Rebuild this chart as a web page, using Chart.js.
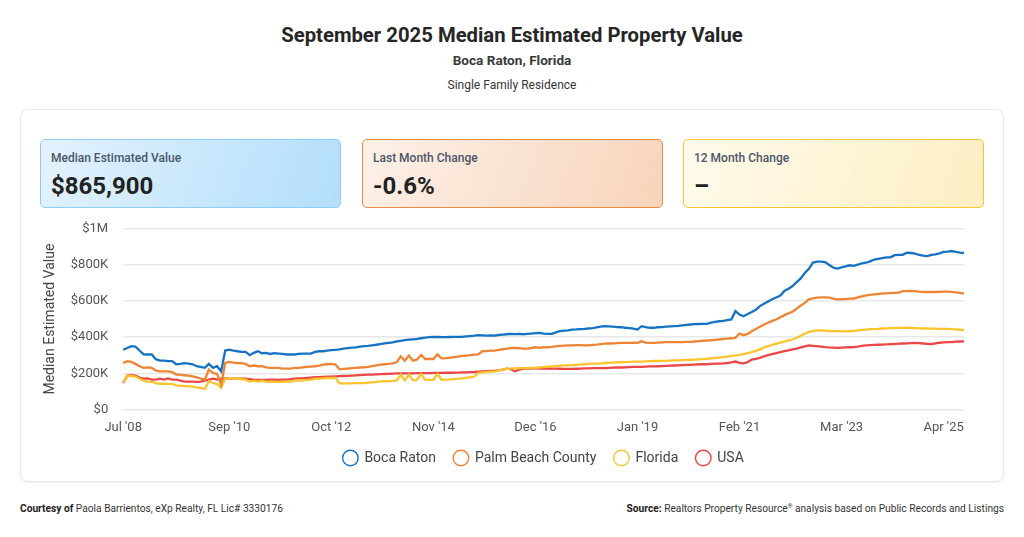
<!DOCTYPE html>
<html>
<head>
<meta charset="utf-8">
<script src="https://cdn.jsdelivr.net/npm/chart.js@4.4.1/dist/chart.umd.min.js"></script>
<style>
  body { margin: 0; width: 1024px; height: 537px; background: #fff; font-family: Roboto, "Noto Sans", sans-serif; position: relative; overflow: hidden; }
  .title { position: absolute; left: 0; width: 1024px; text-align: center; top: 22px; font-size: 20.3px; font-weight: 700; color: #262626; line-height: 26px; }
  .subtitle { position: absolute; left: 0; width: 1024px; text-align: center; top: 52px; font-size: 13.6px; font-weight: 700; color: #3a3a3a; line-height: 16px; }
  .subtitle2 { position: absolute; left: 0; width: 1024px; text-align: center; top: 77px; font-size: 12px; color: #333; line-height: 16px; }
  .panel { position: absolute; left: 20px; top: 109px; width: 982px; height: 371px; border: 1px solid #e2e8f0; border-radius: 8px; box-shadow: 0 1px 2px rgba(30, 60, 100, 0.08); }
  .card { position: absolute; top: 139px; height: 67px; width: 299px; border-radius: 5px; box-sizing: content-box; }
  .card .lbl { position: absolute; left: 10px; top: 11px; font-size: 12px; font-weight: 500; color: #4a5568; }
  .card .val { position: absolute; left: 10px; top: 32px; font-size: 24px; font-weight: 700; color: #222; }
  .c1 { left: 40px; background: linear-gradient(110deg, #e4f2fd, #b2defb); border: 1px solid #90cdf4; }
  .c2 { left: 362px; background: linear-gradient(110deg, #fdf1e8, #f7d4bb); border: 1px solid #ef8a3e; }
  .c3 { left: 683px; background: linear-gradient(110deg, #fffaec, #fdefc3); border: 1px solid #fbc52f; }
  .chartbox { position: absolute; left: 20px; top: 206px; width: 964px; height: 275px; }
  .foot { position: absolute; top: 503px; font-size: 10.2px; color: #333; line-height: 12px; }
  .foot b { color: #222; }
  .foot sup { font-size: 6px; line-height: 0; vertical-align: 4px; }
</style>
</head>
<body>
<div class="title">September 2025 Median Estimated Property Value</div>
<div class="subtitle">Boca Raton, Florida</div>
<div class="subtitle2">Single Family Residence</div>
<div class="panel"></div>
<div class="card c1"><div class="lbl">Median Estimated Value</div><div class="val">$865,900</div></div>
<div class="card c2"><div class="lbl">Last Month Change</div><div class="val">-0.6%</div></div>
<div class="card c3"><div class="lbl">12 Month Change</div><div class="val">–</div></div>
<div class="chartbox"><canvas id="valueChart"></canvas></div>
<div class="foot" style="left:20px;"><b>Courtesy of</b> Paola Barrientos, eXp Realty, FL Lic# 3330176</div>
<div class="foot" style="right:20px;"><b>Source:</b> Realtors Property Resource<sup>®</sup> analysis based on Public Records and Listings</div>

<script>
// Месяцы: Jul 2008 .. Sep 2025 (207 точек)
const monthNames = ['Jan', 'Feb', 'Mar', 'Apr', 'May', 'Jun', 'Jul', 'Aug', 'Sep', 'Oct', 'Nov', 'Dec'];
const firstYear = 2008;
const firstMonth = 6; // Jul
const lastYear = 2025;
const lastMonth = 8;  // Sep

// Подписи, которые видны на оси X
const tickLabels = ["Jul '08", "Sep '10", "Oct '12", "Nov '14", "Dec '16", "Jan '19", "Feb '21", "Mar '23", "Apr '25"];

// Значения в тысячах долларов
const bocaRaton = [
    330, 340, 350, 348, 326, 305, 304, 304, 278, 270,
    270, 267, 267, 250, 252, 256, 254, 250, 239, 235,
    230, 252, 230, 239, 211, 326, 331, 326, 322, 318,
    318, 300, 313, 322, 311, 313, 307, 311, 309, 307,
    304, 304, 304, 307, 309, 309, 309, 318, 322, 322,
    326, 328, 330, 332, 336, 339, 342, 344, 347, 350,
    352, 355, 358, 362, 365, 368, 371, 377, 380, 383,
    386, 388, 390, 394, 397, 400, 402, 401, 400, 400,
    401, 402, 402, 402, 404, 406, 408, 411, 410, 409,
    410, 409, 412, 414, 416, 418, 417, 418, 416, 418,
    420, 422, 424, 420, 418, 418, 426, 433, 436, 438,
    442, 443, 445, 446, 448, 450, 454, 458, 461, 460,
    458, 456, 455, 452, 450, 447, 442, 461, 455, 452,
    452, 455, 456, 458, 460, 461, 462, 465, 468, 470,
    472, 473, 474, 474, 480, 485, 488, 490, 494, 498,
    544, 525, 516, 528, 539, 552, 572, 585, 598, 610,
    620, 630, 656, 668, 683, 705, 725, 755, 778, 813,
    818, 818, 815, 800, 785, 780, 786, 792, 798, 795,
    802, 808, 812, 820, 830, 834, 838, 842, 842, 854,
    856, 856, 868, 866, 863, 856, 852, 849, 855, 859,
    864, 872, 874, 877, 872, 868, 865.9
];

const palmBeach = [
    257, 267, 263, 252, 239, 230, 233, 230, 215, 211,
    211, 211, 207, 193, 193, 189, 187, 183, 178, 170,
    165, 220, 202, 196, 137, 257, 263, 259, 257, 256,
    252, 239, 243, 239, 239, 233, 230, 230, 230, 226,
    226, 226, 230, 230, 233, 235, 237, 239, 243, 248,
    250, 252, 248, 222, 224, 226, 228, 230, 232, 233,
    236, 240, 244, 248, 250, 252, 255, 261, 294, 270,
    298, 270, 276, 302, 279, 279, 279, 305, 283, 284,
    286, 289, 292, 296, 298, 300, 303, 305, 322, 323,
    325, 326, 329, 333, 336, 340, 341, 339, 337, 337,
    340, 344, 341, 344, 344, 346, 349, 352, 353, 355,
    355, 356, 356, 355, 355, 357, 359, 362, 364, 365,
    366, 367, 368, 368, 368, 369, 368, 377, 370, 368,
    368, 370, 371, 372, 372, 372, 373, 373, 374, 374,
    376, 378, 380, 381, 383, 385, 387, 390, 392, 394,
    396, 420, 411, 418, 433, 445, 458, 470, 480, 490,
    498, 510, 522, 532, 541, 558, 575, 590, 609, 615,
    619, 620, 620, 619, 613, 609, 610, 611, 613, 613,
    620, 626, 631, 634, 637, 639, 642, 643, 644, 645,
    646, 655, 655, 656, 655, 652, 650, 650, 650, 650,
    651, 652, 652, 651, 648, 645, 641
];

const florida = [
    150, 185, 186, 182, 170, 159, 154, 152, 146, 142,
    142, 141, 141, 133, 131, 130, 128, 126, 122, 119,
    113, 156, 146, 140, 119, 170, 174, 170, 170, 167,
    165, 154, 159, 154, 159, 154, 152, 152, 152, 152,
    154, 154, 161, 159, 161, 163, 165, 170, 170, 172,
    174, 174, 174, 145, 143, 144, 144, 145, 146, 146,
    148, 150, 152, 155, 156, 157, 158, 161, 192, 161,
    192, 161, 164, 196, 164, 164, 164, 196, 164, 165,
    166, 168, 170, 172, 175, 178, 181, 203, 205, 207,
    209, 211, 215, 220, 224, 226, 227, 228, 229, 229,
    230, 231, 232, 234, 236, 238, 240, 242, 244, 244,
    245, 247, 249, 250, 252, 253, 254, 255, 257, 258,
    259, 260, 261, 262, 263, 264, 265, 265, 266, 267,
    268, 268, 269, 269, 270, 271, 272, 273, 274, 275,
    276, 277, 278, 280, 283, 285, 287, 289, 292, 296,
    299, 302, 306, 312, 317, 324, 332, 344, 350, 357,
    364, 370, 376, 382, 387, 397, 408, 419, 429, 433,
    437, 438, 436, 434, 433, 433, 432, 432, 433, 434,
    437, 440, 442, 444, 445, 446, 448, 449, 450, 451,
    451, 451, 452, 451, 450, 449, 448, 448, 447, 447,
    446, 446, 446, 445, 443, 441, 439
];

const usa = [
    146, 187, 189, 187, 176, 170, 172, 165, 165, 170,
    165, 172, 165, 165, 159, 154, 154, 154, 152, 154,
    159, 165, 170, 165, 170, 172, 172, 170, 170, 170,
    170, 168, 165, 163, 163, 163, 165, 165, 163, 165,
    165, 167, 170, 172, 172, 174, 176, 178, 178, 180,
    181, 182, 183, 184, 185, 186, 187, 188, 190, 191,
    192, 193, 194, 195, 196, 197, 198, 199, 199, 200,
    200, 200, 201, 201, 201, 201, 202, 202, 202, 203,
    203, 204, 204, 205, 205, 206, 207, 209, 211, 212,
    213, 214, 216, 220, 226, 222, 211, 220, 224, 226,
    226, 228, 226, 226, 227, 226, 226, 225, 224, 224,
    224, 225, 226, 227, 227, 228, 228, 229, 229, 230,
    231, 232, 232, 233, 234, 235, 235, 236, 237, 238,
    238, 239, 240, 241, 242, 243, 244, 245, 246, 247,
    248, 249, 250, 250, 252, 253, 254, 255, 257, 260,
    265, 258, 255, 262, 276, 280, 285, 294, 300, 306,
    311, 317, 322, 327, 332, 337, 343, 349, 354, 352,
    350, 348, 345, 343, 342, 341, 342, 343, 344, 345,
    348, 352, 355, 356, 357, 358, 359, 360, 361, 362,
    364, 365, 366, 367, 368, 367, 365, 363, 362, 366,
    369, 371, 372, 373, 375, 376, 377
];

// Формируем подписи месяцев
const labels = [];
for (let y = firstYear, m = firstMonth; y < lastYear || (y === lastYear && m <= lastMonth); ) {
    labels.push(monthNames[m] + " '" + String(y).slice(2));
    m++;
    if (m > 11) { m = 0; y++; }
}

const seriesList = [
    { name: 'Boca Raton', data: bocaRaton, color: '#1673c4' },
    { name: 'Palm Beach County', data: palmBeach, color: '#ee8434' },
    { name: 'Florida', data: florida, color: '#fcc42c' },
    { name: 'USA', data: usa, color: '#ec4646' }
];

// Поднимаем легенду ближе к оси X (как в оригинале)
const legendShift = {
    id: 'legendShift',
    beforeDraw(chart) {
        const lg = chart.legend;
        if (!lg || lg._shifted) return;
        const orig = lg.draw.bind(lg);
        lg.draw = function() {
            const c = this.ctx;
            c.save();
            c.translate(0, -6);
            orig();
            c.restore();
        };
        lg._shifted = true;
    }
};

const ctx = document.getElementById('valueChart').getContext('2d');

new Chart(ctx, {
    type: 'line',
    data: {
        labels: labels,
        datasets: seriesList.map(s => ({
            label: s.name,
            data: s.data,
            borderColor: s.color,
            backgroundColor: 'rgba(0,0,0,0)',
            borderWidth: 2.3,
            pointRadius: 0,
            pointHoverRadius: 0,
            tension: 0,
            pointStyle: 'circle'
        }))
    },
    plugins: [legendShift],
    options: {
        responsive: true,
        maintainAspectRatio: false,
        animation: false,
        layout: { padding: { top: 0, right: 20, left: 22, bottom: 0 } },
        plugins: {
            tooltip: { enabled: false },
            legend: {
                position: 'bottom',
                fullSize: false,
                labels: {
                    usePointStyle: true,
                    boxWidth: 14,
                    boxHeight: 11,
                    padding: 18,
                    color: '#444',
                    font: { family: 'Roboto', size: 14 },
                    // Тонкие кружки в легенде
                    generateLabels: function(chart) {
                        const items = Chart.defaults.plugins.legend.labels.generateLabels(chart);
                        items.forEach(it => { it.lineWidth = 1.4; });
                        return items;
                    }
                }
            }
        },
        scales: {
            x: {
                grid: { display: false },
                border: { display: false },
                ticks: {
                    autoSkip: false,
                    maxRotation: 0,
                    padding: 3,
                    color: '#555',
                    font: { family: 'Roboto', size: 13 },
                    callback: function(value) {
                        const l = this.getLabelForValue(value);
                        return tickLabels.includes(l) ? l : '';
                    }
                }
            },
            y: {
                min: 0,
                max: 1000,
                border: { display: false },
                grid: { color: '#e8e8e8', lineWidth: 1.5, drawTicks: false },
                afterFit: function(scale) { scale.width -= 13; },
                title: {
                    display: true,
                    text: 'Median Estimated Value',
                    color: '#444',
                    font: { family: 'Roboto', size: 14 },
                    padding: { top: 0, bottom: 10 }
                },
                ticks: {
                    stepSize: 200,
                    padding: 15,
                    color: '#555',
                    font: { family: 'Roboto', size: 13 },
                    callback: function(v) {
                        if (v === 0) return '$0';
                        if (v === 1000) return '$1M';
                        return '$' + v + 'K';
                    }
                }
            }
        }
    }
});
</script>
</body>
</html>
